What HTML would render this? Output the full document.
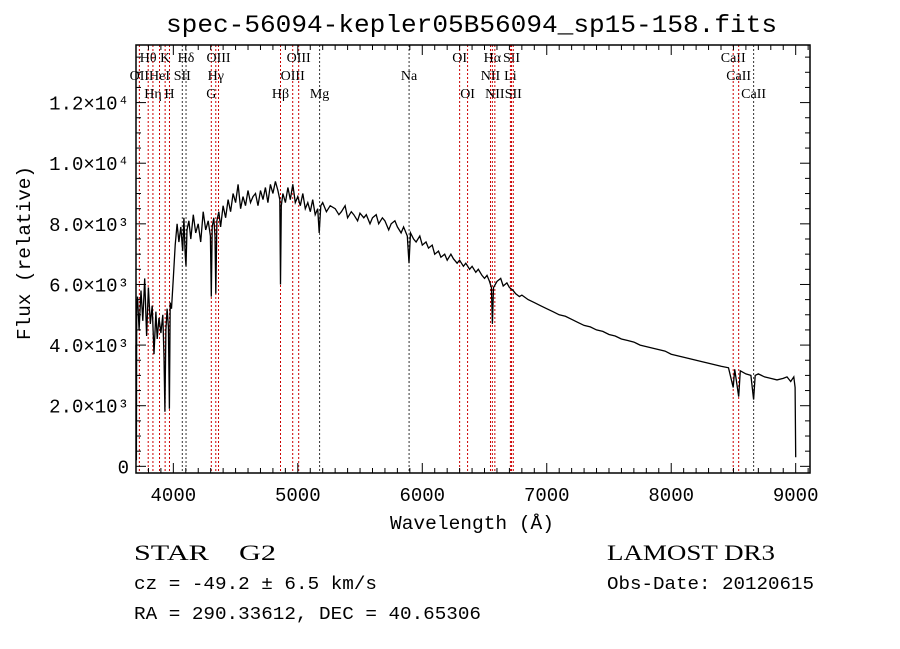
<!DOCTYPE html>
<html><head><meta charset="utf-8"><style>
body{margin:0;background:#fff;}
svg{display:block;font-family:"Liberation Mono",monospace;}
</style></head><body>
<svg id="chart" width="900" height="649" viewBox="0 0 900 649" xmlns="http://www.w3.org/2000/svg">
<rect width="900" height="649" fill="#fff"/>
<text x="166" y="32" font-size="25" textLength="611" lengthAdjust="spacingAndGlyphs">spec-56094-kepler05B56094_sp15-158.fits</text>
<g id="lines"></g>
<g id="spec"></g>
<g id="axes"></g>
<text x="390" y="529" font-size="19" textLength="164" lengthAdjust="spacingAndGlyphs">Wavelength (Å)</text>
<text transform="translate(30,340) rotate(-90)" font-size="19" textLength="174" lengthAdjust="spacingAndGlyphs">Flux (relative)</text>
<text x="134" y="560" font-size="22" font-family="Liberation Serif,serif" textLength="142" lengthAdjust="spacingAndGlyphs">STAR&#160;&#160;&#160;&#160;G2</text>
<text x="607" y="560" font-size="22" font-family="Liberation Serif,serif" textLength="168" lengthAdjust="spacingAndGlyphs">LAMOST DR3</text>
<text x="134" y="589" font-size="18" textLength="243" lengthAdjust="spacingAndGlyphs">cz = -49.2 ± 6.5 km/s</text>
<text x="607" y="589" font-size="18" textLength="207" lengthAdjust="spacingAndGlyphs">Obs-Date: 20120615</text>
<text x="134" y="619" font-size="18" textLength="347" lengthAdjust="spacingAndGlyphs">RA = 290.33612, DEC =  40.65306</text>
</svg>
<script>
const wave=[3700,3703,3706,3712,3725,3740,3755,3770,3785,3800,3815,3830,3845,3860,3870,3885,3900,3915,3925,3932,3940,3950,3960,3968,3975,3985,4000,4015,4030,4045,4060,4075,4085,4095,4102,4110,4125,4140,4160,4180,4200,4220,4240,4260,4280,4298,4305,4312,4325,4335,4341,4350,4365,4380,4400,4420,4440,4460,4480,4500,4520,4540,4560,4580,4600,4620,4640,4660,4680,4700,4720,4740,4760,4780,4800,4820,4840,4855,4861,4867,4880,4900,4920,4940,4960,4980,5000,5020,5040,5060,5080,5100,5120,5140,5160,5172,5185,
5200,5230,5260,5300,5330,5350,5380,5400,5430,5450,5480,5500,5530,5550,5580,5600,5630,5650,5680,5700,5730,5750,5780,5800,5830,5850,5880,
5893,5905,
5930,5950,5980,6000,6030,6050,6080,6100,6130,6150,6180,6200,6230,6250,6280,6300,6330,6350,6380,6400,6430,6450,6480,6500,6520,6540,
6555,6563,6572,
6600,6630,6650,6680,6700,6730,6750,6780,6800,
6850,6900,6950,7000,7050,7100,7150,7200,7250,7300,7350,7400,7450,7500,7550,7600,7650,7700,7750,7800,7850,7900,7950,8000,8050,8100,8150,8200,8250,8300,8350,8400,
8460,8498,8510,8542,8555,8600,8640,8662,8675,8700,8750,8800,8850,8900,8930,8960,8985,8995,9000];
const flux=[4000,200,5200,5600,4500,5800,4800,6200,4300,5900,4700,5300,3700,5100,4200,4900,4400,5000,3600,1800,4500,5200,4600,1900,5400,5200,6200,7300,8000,7400,7900,7100,8200,7000,6600,7800,8100,7500,8300,7700,8000,7400,8400,7800,8100,7600,5600,7900,8200,7600,5700,8100,8400,7900,8600,8200,8800,8400,9000,8700,9300,8500,8900,8600,9100,8700,8900,9000,8600,9100,8800,9200,8700,9300,9000,9400,9100,8800,6000,8600,9000,8700,9200,8800,9300,8700,8900,8600,9000,8500,8700,8400,8800,8300,8500,7700,8600,
8700,8400,8600,8500,8300,8400,8600,8200,8400,8300,8100,8350,8200,8300,8000,8200,8300,8000,8200,8100,7800,8000,8100,7900,7700,7900,7600,
6700,7700,
7500,7400,7600,7300,7400,7200,7300,7000,7100,6900,7000,6800,7000,6850,6700,6800,6600,6700,6500,6600,6400,6500,6300,6200,6300,6100,
5900,4700,5900,
6100,6200,5950,6050,5900,5800,5700,5600,5650,
5500,5400,5300,5200,5100,5000,4950,4850,4750,4650,4600,4500,4450,4350,4300,4200,4150,4100,4000,3950,3900,3850,3800,3700,3650,3600,3550,3500,3450,3400,3350,3300,
3250,2600,3200,2300,3150,3050,3000,2200,3000,3050,2950,2900,2850,2900,2950,2800,2950,2600,300];
const xTicks=[4000,5000,6000,7000,8000,9000];
const yTicks=[0,2000,4000,6000,8000,10000,12000];
const yTickLabels=["0","2.0×10³","4.0×10³","6.0×10³","8.0×10³","1.0×10⁴","1.2×10⁴"];
const lineWaves=[3727,3798,3836,3889,3934,3969,4072,4102,4305,4341,4363,4861,4959,5007,5175,5894,6300,6364,6548,6563,6583,6708,6717,6731,8498,8542,8662];
const lineNames=["OII","Hθ","Hη","HeI","K","H","SII","Hδ","G","Hγ","OIII","Hβ","OIII","OIII","Mg","Na","OI","OI","NII","Hα","NII","Li","SII","SII","CaII","CaII","CaII"];
const lineRows=[1,0,2,1,0,2,1,0,2,1,0,2,1,0,2,1,0,2,1,0,2,1,0,2,0,1,2];

const X0=136,X1=810,Y0=45,Y1=473;
const W0=3700,W1=9115,F0=-220,F1=13900;
function xs(w){return X0+(w-W0)/(W1-W0)*(X1-X0);}
function ys(f){return Y1-(f-F0)/(F1-F0)*(Y1-Y0);}
const NS="http://www.w3.org/2000/svg";
function mk(tag,attrs,parent){const e=document.createElementNS(NS,tag);for(const k in attrs)e.setAttribute(k,attrs[k]);parent.appendChild(e);return e;}

const gl=document.getElementById('lines');
lineWaves.forEach((w,i)=>{
  const dark=(lineNames[i]==="Na"||lineNames[i]==="Mg"||lineNames[i]==="Hδ"||(lineNames[i]==="SII"&&w<5000)||w===8662);
  const l=mk('line',{x1:xs(w),x2:xs(w),y1:Y0,y2:Y1,stroke:dark?"#333":"#c00",'stroke-width':1,'stroke-dasharray':'2,2'},gl);
  
  
  const t=mk('text',{x:xs(w),y:62+lineRows[i]*18,'font-size':14,'text-anchor':'middle','font-family':'Liberation Serif,serif'},gl);
  t.textContent=lineNames[i];
  
  
});

const gs=document.getElementById('spec');
let d='';
wave.forEach((w,i)=>{d+=(i?'L':'M')+xs(w).toFixed(1)+','+ys(flux[i]).toFixed(1);});
const p=mk('path',{d:d,fill:'none',stroke:'#000','stroke-width':1.3},gs);



const ga=document.getElementById('axes');
const fr=mk('rect',{x:X0,y:Y0,width:X1-X0,height:Y1-Y0,fill:'none',stroke:'#000','stroke-width':1.5},ga);


for(let w=3700;w<=9100;w+=100){
  const major=w%1000===0;const len=major?10:5;
  mk('line',{x1:xs(w),x2:xs(w),y1:Y1,y2:Y1-len,stroke:'#000'},ga);
  mk('line',{x1:xs(w),x2:xs(w),y1:Y0,y2:Y0+len,stroke:'#000'},ga);
}
xTicks.forEach(w=>{
  const t=mk('text',{x:xs(w),y:501,'font-size':19,'text-anchor':'middle'},ga);
  t.textContent=w;
  
  
});
for(let f=0;f<=13500;f+=500){
  const major=f%2000===0;const len=major?10:5;
  mk('line',{x1:X0,x2:X0+len,y1:ys(f),y2:ys(f),stroke:'#000'},ga);
  mk('line',{x1:X1,x2:X1-len,y1:ys(f),y2:ys(f),stroke:'#000'},ga);
}
yTicks.forEach((f,i)=>{
  const t=mk('text',{x:129,y:ys(f)+7,'font-size':19,'text-anchor':'end'},ga);
  t.textContent=yTickLabels[i];
  
  
});
</script>
</body></html>
